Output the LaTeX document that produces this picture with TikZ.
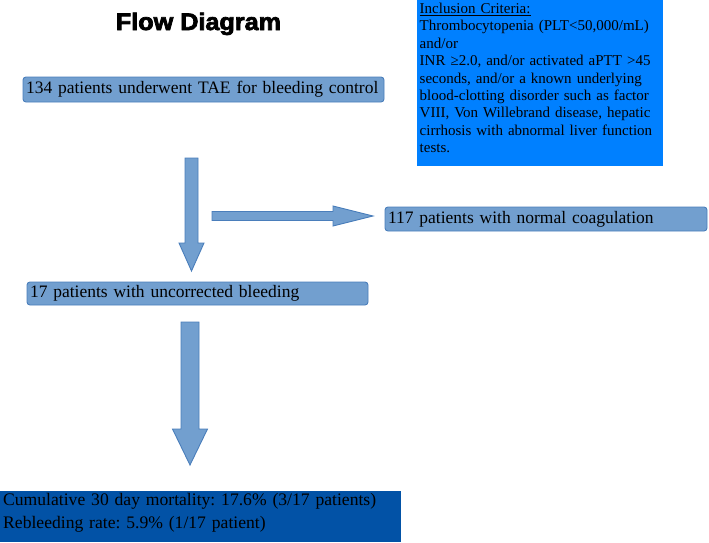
\documentclass[tikz,border=0pt]{standalone}
\usepackage{fontspec}
\usepackage{graphicx}
\setmainfont{Liberation Serif}
\newfontfamily\titlefont[FakeBold=3]{Liberation Sans Bold}
\frenchspacing
\definecolor{boxfill}{RGB}{114,159,207}
\definecolor{boxline}{RGB}{74,126,187}
\definecolor{critblue}{RGB}{0,128,255}
\definecolor{resblue}{RGB}{2,82,166}
\tikzset{
  stagebox/.style={draw=boxline, fill=boxfill, line width=0.9pt, rounded corners=3pt,
    inner xsep=3pt, inner ysep=0pt, align=left, font=\fontsize{17.5}{21}\selectfont},
  blockarrow/.style={draw=boxline, fill=boxfill, line width=0.9pt, line join=miter}
}
\begin{document}
\begin{tikzpicture}[x=1pt, y=-1pt]
\useasboundingbox (0,0) rectangle (709,542);
% title
\node[anchor=base, inner sep=0pt] (title) at (198.5,30)
  {\scalebox{1.05}[1]{\titlefont\fontsize{24}{28}\selectfont Flow Diagram}};
% inclusion criteria box
\node[fill=critblue, inner sep=0pt, minimum width=246pt, minimum height=166pt, anchor=north west] (critbox) at (417,0) {};
\node[anchor=north west, inner sep=0pt, text width=244pt, align=left,
  font=\fontsize{15}{17.4}\selectfont] (crit) at (419.5,2.8)
  {\underline{Inclusion Criteria:}\\
   Thrombocytopenia (PLT<50,000/mL)\\
   and/or\\
   INR ≥2.0, and/or activated aPTT >45\\
   seconds, and/or a known underlying\\
   blood-clotting disorder such as factor\\
   VIII, Von Willebrand disease, hepatic\\
   cirrhosis with abnormal liver function\\
   tests.};
% stage boxes
\node[stagebox, minimum width=361pt, minimum height=25pt, text width=355pt] (n134) at (203.5,89.5)
  {\mbox{134 patients underwent TAE for bleeding control}};
\node[stagebox, minimum width=322pt, minimum height=24pt, text width=316pt] (n117) at (546,219)
  {\mbox{117 patients with normal coagulation}};
\node[stagebox, minimum width=341pt, minimum height=23pt, text width=335pt] (n17) at (197.5,293.5)
  {\mbox{17 patients with uncorrected bleeding}};
% result box
\node[fill=resblue, inner sep=0pt, minimum width=401pt, minimum height=51pt, anchor=north west] (resbox) at (0,491) {};
\node[anchor=north west, inner sep=0pt, text width=398pt, align=left,
  font=\fontsize{17.6}{23}\selectfont] (res) at (3,493)
  {\mbox{Cumulative 30 day mortality: 17.6\% (3/17 patients)}\\
   \mbox{Rebleeding rate: 5.9\% (1/17 patient)}};
% arrows
\coordinate (a1top) at (191.5,158);
\coordinate (a1tip) at (191.5,271);
\draw[blockarrow] ([xshift=-6.5pt]a1top) -- ([xshift=6.5pt]a1top) -- (198,243) -- (204,243)
  -- (a1tip) -- (179,243) -- (185,243) -- cycle;
\coordinate (a2start) at (212,216);
\coordinate (a2tip) at (373,216);
\draw[blockarrow] (a2start) ++(0,-4.5) -- (333,211.5) -- (333,206) -- (a2tip) -- (333,226)
  -- (333,220.5) -- (212,220.5) -- cycle;
\coordinate (a3top) at (190,322);
\coordinate (a3tip) at (190,465);
\draw[blockarrow] ([xshift=-9pt]a3top) -- ([xshift=9pt]a3top) -- (199,429) -- (207.5,429)
  -- (a3tip) -- (172.5,429) -- (181,429) -- cycle;
\end{tikzpicture}
\end{document}
